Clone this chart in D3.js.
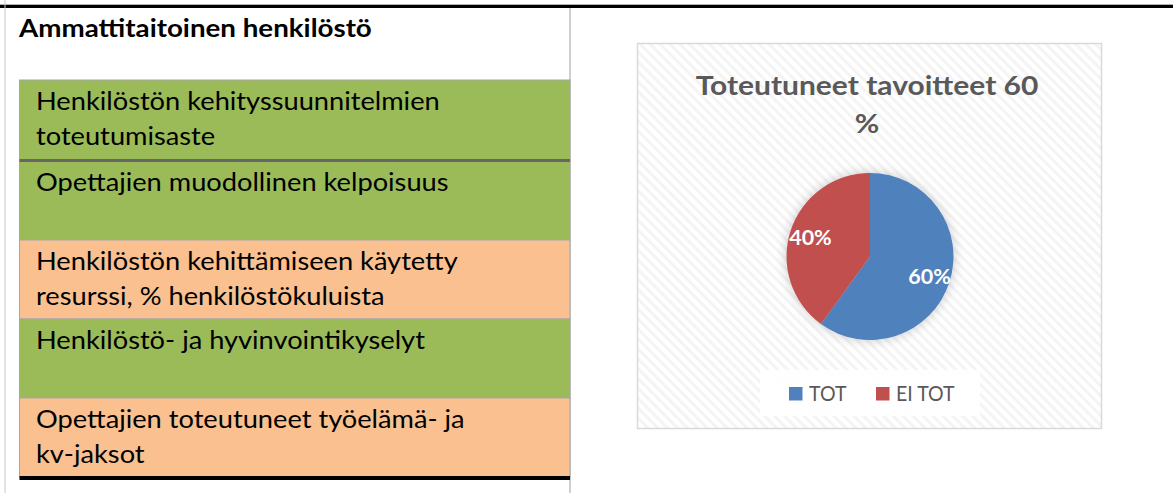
<!DOCTYPE html>
<html>
<head>
<meta charset="utf-8">
<script src="https://cdn.jsdelivr.net/npm/d3@7"></script>
<style>
  html, body { margin: 0; padding: 0; background: #fff; }
  svg { display: block; }
</style>
</head>
<body>
<svg id="chart" width="1173" height="493"></svg>
<script>
// ---------------- data ----------------
const sectionTitle = "Ammattitaitoinen henkilöstö";
const rowLabels = [
  ["Henkilöstön kehityssuunnitelmien", "toteutumisaste"],
  ["Opettajien muodollinen kelpoisuus"],
  ["Henkilöstön kehittämiseen käytetty", "resurssi, % henkilöstökuluista"],
  ["Henkilöstö- ja hyvinvointikyselyt"],
  ["Opettajien toteutuneet työelämä- ja", "kv-jaksot"]
];
const rowStatus = ["ok", "ok", "partial", "ok", "partial"];
const chartTitleLines = ["Toteutuneet tavoitteet 60", "%"];
const pieCategories = ["TOT", "EI TOT"];
const pieValues = [60, 40];

// ---------------- drawing ----------------
const svg = d3.select("#chart");
const W = 1173, H = 493;
const FONT = "Lato, 'Open Sans', sans-serif";

const defs = svg.append("defs");
const pat = defs.append("pattern")
  .attr("id", "hatch").attr("patternUnits", "userSpaceOnUse")
  .attr("width", 7).attr("height", 7)
  .attr("patternTransform", "rotate(-45)");
pat.append("rect").attr("width", 7).attr("height", 7).attr("fill", "#ffffff");
pat.append("rect").attr("width", 3).attr("height", 7).attr("fill", "#f4f4f4");

const flt = defs.append("filter").attr("id", "pieShadow")
  .attr("x", "-30%").attr("y", "-30%").attr("width", "160%").attr("height", "160%");
flt.append("feGaussianBlur").attr("in", "SourceAlpha").attr("stdDeviation", 6).attr("result", "b");
flt.append("feComponentTransfer").attr("in", "b").attr("result", "s")
  .append("feFuncA").attr("type", "linear").attr("slope", 0.22);
const fm = flt.append("feMerge");
fm.append("feMergeNode").attr("in", "s");
fm.append("feMergeNode").attr("in", "SourceGraphic");

// page frame lines
svg.append("rect").attr("x", 0).attr("y", 4).attr("width", W).attr("height", 1).attr("fill", "#b0b0b0");
svg.append("rect").attr("x", 0).attr("y", 5).attr("width", W).attr("height", 3).attr("fill", "#000");
svg.append("rect").attr("x", 4.5).attr("y", 0).attr("width", 1).attr("height", H).attr("fill", "#c8c8c8");
svg.append("rect").attr("x", 569.5).attr("y", 8).attr("width", 1).attr("height", H - 8).attr("fill", "#a0a0a0");

// helper: horizontal scale so a text matches a target width
function fitText(sel, target) {
  const len = sel.node().getComputedTextLength();
  return target / len;
}

// section title
const tTitle = svg.append("text")
  .attr("font-family", FONT).attr("font-weight", "bold").attr("font-size", 25)
  .attr("fill", "#000").text(sectionTitle);
const sxTitle = fitText(tTitle, 353);
tTitle.attr("transform", `translate(19,37) scale(${sxTitle},1)`);

// rows
const rowEdges = [80, 160.5, 240, 319, 398, 477];
const rowX0 = 19.5, rowX1 = 570;
const statusColor = d3.scaleOrdinal().domain(["ok", "partial"]).range(["#9BBB59", "#FAC090"]);

const rows = svg.append("g");
rowLabels.forEach((lines, i) => {
  rows.append("rect")
    .attr("x", rowX0).attr("y", rowEdges[i])
    .attr("width", rowX1 - rowX0).attr("height", rowEdges[i + 1] - rowEdges[i])
    .attr("fill", statusColor(rowStatus[i]))
    .attr("stroke", "#a6a6a6").attr("stroke-width", 1);
});
rows.append("rect").attr("x", rowX0).attr("y", 159).attr("width", rowX1 - rowX0).attr("height", 3).attr("fill", "#666666");
rows.append("rect").attr("x", rowX0).attr("y", 476).attr("width", rowX1 - rowX0).attr("height", 4).attr("fill", "#000");

const probe = svg.append("text").attr("font-family", FONT).attr("font-size", 25).text(rowLabels[0][0]);
const sxRow = fitText(probe, 404);
probe.remove();

rowLabels.forEach((lines, i) => {
  lines.forEach((ln, j) => {
    rows.append("text")
      .attr("font-family", FONT).attr("font-size", 25).attr("fill", "#000")
      .attr("transform", `translate(36,${rowEdges[i] + 30 + j * 35}) scale(${sxRow},1)`)
      .text(ln);
  });
});

// ---------------- chart ----------------
const box = { x: 637.5, y: 43.5, w: 464, h: 385 };
svg.append("rect").attr("x", box.x).attr("y", box.y).attr("width", box.w).attr("height", box.h)
  .attr("fill", "url(#hatch)").attr("stroke", "#d9d9d9").attr("stroke-width", 1.5);

const ct = svg.append("g");
const probeT = ct.append("text").attr("font-family", FONT).attr("font-weight", "bold").attr("font-size", 27).text(chartTitleLines[0]);
const sxCT = fitText(probeT, 343);
probeT.remove();
chartTitleLines.forEach((ln, j) => {
  ct.append("text")
    .attr("font-family", FONT).attr("font-weight", "bold").attr("font-size", 27)
    .attr("fill", "#595959").attr("text-anchor", "middle")
    .attr("transform", `translate(867,${95 + j * 38}) scale(${sxCT},1)`)
    .text(ln);
});

// pie
const cx = 870, cy = 256.5, R = 83.5;
const color = d3.scaleOrdinal().domain(pieCategories).range(["#4F81BD", "#C0504D"]);
const pieGen = d3.pie().sort(null).value(d => d.value);
const arcs = pieGen(pieCategories.map((c, i) => ({ cat: c, value: pieValues[i] })));
const arc = d3.arc().innerRadius(0).outerRadius(R);
const labelArc = d3.arc().innerRadius(R * 0.75).outerRadius(R * 0.75);
const total = d3.sum(pieValues);

const pg = svg.append("g").attr("transform", `translate(${cx},${cy})`);
pg.append("g").attr("filter", "url(#pieShadow)")
  .selectAll("path").data(arcs).join("path")
  .attr("d", arc).attr("fill", d => color(d.data.cat));

pg.selectAll("text.lbl").data(arcs).join("text")
  .attr("class", "lbl")
  .attr("transform", d => { const c = labelArc.centroid(d); return `translate(${c[0]},${c[1]})`; })
  .attr("text-anchor", "middle").attr("dy", "0.36em")
  .attr("font-family", FONT).attr("font-weight", "bold").attr("font-size", 21.5)
  .attr("fill", "#ffffff")
  .text(d => Math.round(d.data.value / total * 100) + "%");

// legend
const lg = svg.append("g");
lg.append("rect").attr("x", 760).attr("y", 370).attr("width", 220).attr("height", 46)
  .attr("fill", "#ffffff").attr("fill-opacity", 0.85);
const legX = d3.scaleOrdinal().domain(pieCategories).range([789, 876]);
pieCategories.forEach(c => {
  lg.append("rect").attr("x", legX(c)).attr("y", 387).attr("width", 13.5).attr("height", 13.5)
    .attr("fill", color(c));
  lg.append("text").attr("font-family", FONT).attr("font-size", 21).attr("fill", "#595959")
    .attr("transform", `translate(${legX(c) + 20},401) scale(0.93,1)`)
    .text(c);
});
</script>
</body>
</html>
